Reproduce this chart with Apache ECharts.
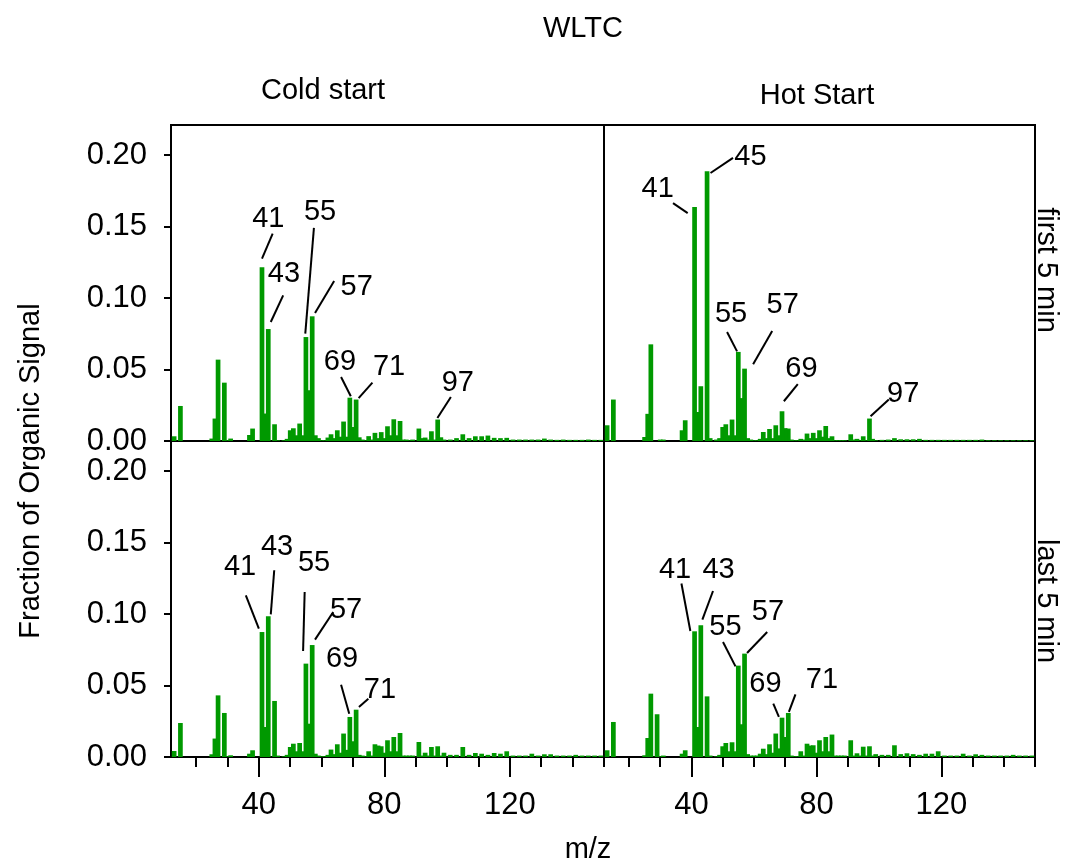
<!DOCTYPE html>
<html>
<head>
<meta charset="utf-8">
<script src="https://cdn.jsdelivr.net/npm/echarts@6/dist/echarts.min.js"></script>
<style>
  html, body { margin: 0; background: #fff; }
  #chart { width: 1071px; height: 863px; }
</style>
</head>
<body>
<div id="chart"></div>
<script>
// m/z positions shared by all four spectra
const mz = [
  13, 15,
  25, 26, 27,
  29, 30, 31,
  37, 38,
  41, 42, 43, 45, 46,
  48, 49, 50, 51, 52, 53, 54, 55, 56, 57, 58,
  59, 60, 61, 62, 63, 64, 65, 66, 67, 68, 69, 70, 71, 72, 73, 74,
  75, 76, 77, 78, 79, 80, 81, 82, 83, 84, 85, 86, 87, 88, 89,
  91, 92, 93, 94, 95, 96, 97, 98, 99,
  101, 103, 105, 107, 109, 111, 113, 115, 117, 119, 121, 123, 125,
  127, 129, 131, 133, 135, 137, 139, 141, 143, 145, 147, 149
]

// fraction of organic signal, one array per panel (same order as mz)
const coldFirst = [
  0.0033, 0.0245,
  0.0017, 0.0157, 0.0569,
  0.0408, 0.0005, 0.0017,
  0.0042, 0.0087,
  0.1215, 0.0192, 0.0783, 0.0117, 0.0005,
  0.0005, 0.0015, 0.0075, 0.0089, 0.004, 0.0122, 0.004, 0.0727, 0.0355, 0.0872, 0.004,
  0.002, 0.0005, 0.0005, 0.0024, 0.0047, 0.002, 0.0075, 0.003, 0.0136, 0.003, 0.0303, 0.0098, 0.029, 0.0026, 0.001, 0.0005,
  0.0034, 0.001, 0.0057, 0.002, 0.0062, 0.002, 0.0103, 0.004, 0.0152, 0.004, 0.014, 0.001, 0.001, 0.0005, 0.001,
  0.0087, 0.002, 0.0024, 0.001, 0.0068, 0.001, 0.015, 0.0026, 0.001,
  0.001, 0.002, 0.0047, 0.002, 0.0033, 0.0033, 0.0038, 0.0022, 0.002, 0.0022, 0.001, 0.001, 0.001,
  0.001, 0.001, 0.0017, 0.001, 0.0008, 0.001, 0.0008, 0.0008, 0.0008, 0.001, 0.0008, 0.0008
]
const hotFirst = [
  0.011, 0.029,
  0.0028, 0.019, 0.0676,
  0, 0.001, 0.001,
  0.0075, 0.0145,
  0.1636, 0.0203, 0.0383, 0.1886, 0.002,
  0.001, 0.002, 0.0098, 0.0117, 0.004, 0.015, 0.004, 0.0623, 0.03, 0.0506, 0.002,
  0.001, 0.0005, 0.0005, 0.0015, 0.0063, 0.002, 0.0084, 0.002, 0.011, 0.004, 0.0208, 0.009, 0.0087, 0.001, 0.0005, 0.0005,
  0.0015, 0.001, 0.0052, 0.002, 0.0057, 0.002, 0.0075, 0.003, 0.0105, 0.002, 0.0033, 0.0005, 0.0005, 0.0005, 0.0005,
  0.0047, 0.001, 0.0015, 0.0005, 0.0033, 0.0005, 0.0157, 0.0015, 0.0005,
  0.0008, 0.001, 0.002, 0.0012, 0.0012, 0.0012, 0.0015, 0.0008, 0.0008, 0.0008, 0.0008, 0.0008, 0.0008,
  0.0008, 0.0008, 0.0008, 0.001, 0.0005, 0.0005, 0.0005, 0.0005, 0.0005, 0.0005, 0.0005, 0.0005
]
const coldLast = [
  0.0042, 0.0238,
  0.0019, 0.0129, 0.0431,
  0.0308, 0.0005, 0.0012,
  0.0023, 0.0047,
  0.0874, 0.021, 0.0984, 0.0392, 0.001,
  0.0005, 0.0015, 0.007, 0.0093, 0.004, 0.0098, 0.004, 0.0653, 0.0233, 0.0783, 0.0023,
  0.001, 0.0005, 0.0005, 0.0015, 0.0052, 0.002, 0.0089, 0.003, 0.0164, 0.005, 0.028, 0.011, 0.0331, 0.0015, 0.001, 0.0005,
  0.004, 0.001, 0.0089, 0.008, 0.0075, 0.003, 0.0117, 0.004, 0.014, 0.004, 0.0168, 0.001, 0.001, 0.001, 0.001,
  0.0105, 0.001, 0.003, 0.001, 0.007, 0.001, 0.0075, 0.001, 0.003,
  0.0015, 0.0015, 0.007, 0.0015, 0.0028, 0.0023, 0.0015, 0.0028, 0.0023, 0.004, 0.001, 0.001, 0.001,
  0.0023, 0.001, 0.0019, 0.0019, 0.001, 0.001, 0.001, 0.0015, 0.001, 0.001, 0.001, 0.001
]
const hotLast = [
  0.0047, 0.0245,
  0.0012, 0.0133, 0.0443,
  0.0299, 0.0005, 0.001,
  0.0023, 0.0047,
  0.0879, 0.021, 0.0921, 0.0424, 0.001,
  0.0005, 0.0015, 0.0075, 0.0098, 0.004, 0.0103, 0.004, 0.0639, 0.0229, 0.0723, 0.002,
  0.001, 0.001, 0.001, 0.0023, 0.0058, 0.002, 0.0089, 0.003, 0.0164, 0.006, 0.0275, 0.014, 0.0308, 0.001, 0.0005, 0.0005,
  0.004, 0.001, 0.0093, 0.008, 0.0082, 0.003, 0.0117, 0.004, 0.014, 0.004, 0.0157, 0.001, 0.001, 0.001, 0.001,
  0.0117, 0.001, 0.0026, 0.001, 0.0072, 0.001, 0.0075, 0.001, 0.002,
  0.0015, 0.0015, 0.0082, 0.002, 0.0026, 0.002, 0.0015, 0.0023, 0.0023, 0.004, 0.001, 0.001, 0.001,
  0.0023, 0.001, 0.0019, 0.0015, 0.001, 0.001, 0.001, 0.001, 0.0015, 0.001, 0.001, 0.001
]

// axis ticks
const yTicks = [0, 0.05, 0.10, 0.15, 0.20]
const xMajorTicks = [40, 80, 120]
const xMinorTicks = [20, 30, 40, 50, 60, 70, 80, 90, 100, 110, 120, 130, 140, 150]

// peak labels: text position and leader line, in data units
const coldFirstPeaks = [
  { text: '41', at: [43.0, 0.1555], line: [[44.4, 0.145], [41.0, 0.1275]] },
  { text: '43', at: [48.0, 0.117], line: [[47.75, 0.1019], [43.8, 0.0832]] },
  { text: '55', at: [59.5, 0.160], line: [[57.55, 0.149], [54.8, 0.0751]] },
  { text: '57', at: [71.2, 0.1077], line: [[64.0, 0.1119], [57.9, 0.0895]] },
  { text: '69', at: [65.85, 0.0552], line: [[66.2, 0.0448], [69.3, 0.0313]] },
  { text: '71', at: [81.5, 0.0515], line: [[76.2, 0.0408], [71.8, 0.030]] },
  { text: '97', at: [103.4, 0.0407], line: [[101.2, 0.0308], [96.9, 0.0161]] }
]
const hotFirstPeaks = [
  { text: '41', at: [29.2, 0.1759], line: [[34.1, 0.1664], [38.8, 0.1594]] },
  { text: '45', at: [58.9, 0.1986], line: [[53.3, 0.198], [46.1, 0.1874]] },
  { text: '55', at: [52.7, 0.0891], line: [[51.4, 0.0762], [54.6, 0.0627]] },
  { text: '57', at: [69.2, 0.0949], line: [[65.85, 0.0769], [59.75, 0.0536]] },
  { text: '69', at: [75.2, 0.0501], line: [[74.05, 0.0397], [69.6, 0.0278]] },
  { text: '97', at: [107.8, 0.0327], line: [[103.2, 0.029], [97.35, 0.0173]] }
]
const coldLastPeaks = [
  { text: '41', at: [34.0, 0.1331], line: [[35.85, 0.1131], [40.0, 0.0898]] },
  { text: '43', at: [45.8, 0.1469], line: [[44.9, 0.1306], [43.8, 0.0998]] },
  { text: '55', at: [57.6, 0.1357], line: [[54.6, 0.1154], [54.1, 0.0741]] },
  { text: '57', at: [67.8, 0.1031], line: [[63.7, 0.1014], [57.9, 0.0821]] },
  { text: '69', at: [66.5, 0.0688], line: [[66.2, 0.0506], [68.8, 0.0303]] },
  { text: '71', at: [78.6, 0.0471], line: [[74.9, 0.0408], [71.9, 0.035]] }
]
const hotLastPeaks = [
  { text: '41', at: [34.75, 0.1306], line: [[36.8, 0.1213], [39.65, 0.0881]] },
  { text: '43', at: [48.7, 0.1306], line: [[46.9, 0.1161], [43.5, 0.0961]] },
  { text: '55', at: [50.9, 0.0909], line: [[50.1, 0.0804], [54.1, 0.0634]] },
  { text: '57', at: [64.5, 0.1014], line: [[64.25, 0.0874], [57.8, 0.0727]] },
  { text: '69', at: [63.7, 0.0513], line: [[66.2, 0.0373], [68.0, 0.028]] },
  { text: '71', at: [81.8, 0.0536], line: [[73.3, 0.0438], [71.2, 0.0315]] }
]

const FONT = 'Liberation Sans, Arial, Helvetica, sans-serif'
const FS = 29
const TICK_FS = 31
const GREEN = '#009900'

// layout of the 2x2 panels
const panels = [
  { values: coldFirst, peaks: coldFirstPeaks, left: 171, top: 125, width: 433, leftCol: true, bottomRow: false },
  { values: hotFirst, peaks: hotFirstPeaks, left: 604, top: 125, width: 431, leftCol: false, bottomRow: false },
  { values: coldLast, peaks: coldLastPeaks, left: 171, top: 441, width: 433, leftCol: true, bottomRow: true },
  { values: hotLast, peaks: hotLastPeaks, left: 604, top: 441, width: 431, leftCol: false, bottomRow: true }
]

const grid = []
const xAxis = []
const yAxis = []
const series = []

panels.forEach((p, i) => {
  grid.push({
    left: p.left, top: p.top, width: p.width, height: 316,
    show: true, borderColor: '#000', borderWidth: 2, backgroundColor: 'transparent'
  })
  xAxis.push({
    type: 'value', gridIndex: i, position: 'bottom', min: 12, max: 150,
    splitLine: { show: false },
    axisLine: { show: true, lineStyle: { color: '#000', width: 2 } },
    axisTick: { show: p.bottomRow, customValues: xMinorTicks, length: 10, lineStyle: { color: '#000', width: 2 } },
    axisLabel: { show: false }
  })
  yAxis.push({
    type: 'value', gridIndex: i, position: 'left', min: 0, max: 0.221,
    splitLine: { show: false },
    axisLine: { show: true, lineStyle: { color: '#000', width: 2 } },
    axisTick: { show: p.leftCol, customValues: yTicks, length: 7, lineStyle: { color: '#000', width: 2 } },
    axisLabel: {
      show: p.leftCol, customValues: yTicks, margin: 24,
      fontFamily: FONT, fontSize: TICK_FS, color: '#000',
      formatter: v => v.toFixed(2)
    }
  })

  // taller bars drawn last so they sit on top of their neighbours
  const bars = mz.map((m, k) => [m, p.values[k]])
    .filter(d => d[1] > 0)
    .sort((a, b) => a[1] - b[1])
  series.push({
    type: 'bar', xAxisIndex: i, yAxisIndex: i,
    barWidth: 4.7, itemStyle: { color: GREEN },
    data: bars, silent: true, clip: true
  })
  series.push({
    type: 'lines', coordinateSystem: 'cartesian2d', xAxisIndex: i, yAxisIndex: i,
    polyline: false, silent: true,
    lineStyle: { color: '#000', width: 2, opacity: 1 },
    data: p.peaks.map(pk => ({ coords: pk.line }))
  })
  series.push({
    type: 'scatter', xAxisIndex: i, yAxisIndex: i,
    symbolSize: 0, itemStyle: { color: '#000' }, silent: true,
    label: {
      show: true, position: 'inside', color: '#000', opacity: 1,
      textBorderWidth: 0,
      fontFamily: FONT, fontSize: FS,
      formatter: d => d.data[2]
    },
    data: p.peaks.map(pk => [pk.at[0], pk.at[1], pk.text])
  })
})

// second x axis on the bottom row for the long labelled ticks
;[2, 3].forEach(g => {
  xAxis.push({
    type: 'value', gridIndex: g, position: 'bottom', min: 12, max: 150,
    splitLine: { show: false },
    axisLine: { show: false },
    axisTick: { show: true, customValues: xMajorTicks, length: 20, lineStyle: { color: '#000', width: 2 } },
    axisLabel: {
      show: true, customValues: xMajorTicks, margin: 33,
      fontFamily: FONT, fontSize: TICK_FS, color: '#000'
    }
  })
})

const txt = (text, x, y, rotation) => ({
  type: 'text', x, y, rotation: rotation || 0, silent: true,
  style: { text, fill: '#000', font: FS + 'px ' + FONT, align: 'center', verticalAlign: 'middle' }
})

const chart = echarts.init(document.getElementById('chart'), null, { renderer: 'canvas' })
chart.setOption({
  animation: false,
  backgroundColor: '#fff',
  grid, xAxis, yAxis, series,
  graphic: [
    txt('WLTC', 583, 29),
    txt('Cold start', 323, 91),
    txt('Hot Start', 817, 96),
    txt('first 5 min', 1046, 270, -Math.PI / 2),
    txt('last 5 min', 1046, 601, -Math.PI / 2),
    txt('Fraction of Organic Signal', 31, 471, Math.PI / 2),
    txt('m/z', 588, 850)
  ]
})
</script>
</body>
</html>
